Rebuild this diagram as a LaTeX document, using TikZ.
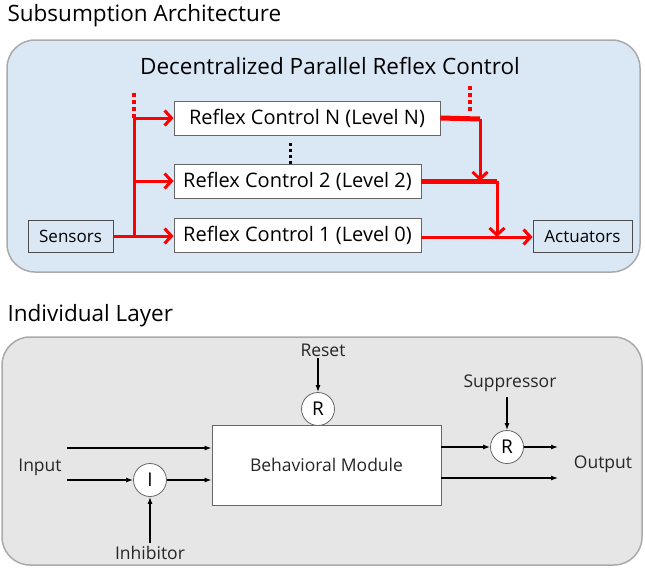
\documentclass[tikz,border=0pt]{standalone}
\usepackage{fontspec}
\setmainfont{Open Sans}
\usetikzlibrary{arrows.meta}
\definecolor{panelblue}{RGB}{218,231,245}
\definecolor{panelgray}{RGB}{230,230,230}
\definecolor{paneledge}{RGB}{170,170,170}
\tikzset{
  panel/.style={draw=paneledge, line width=1.5pt, rounded corners=28pt},
  reflexbox/.style={draw=black!60, fill=white, line width=0.8pt, minimum height=34pt, font=\fontsize{20}{22}\selectfont},
  iobox/.style={draw=black!70, fill=panelblue, line width=0.8pt, minimum height=32pt, font=\fontsize{17}{18}\selectfont},
  gate/.style={circle, draw=black!60, fill=white, line width=0.8pt, minimum size=33pt, inner sep=0pt, font=\fontsize{19}{20}\selectfont},
  lbl/.style={font=\fontsize{17.5}{19}\selectfont, text=black!85},
  redline/.style={red, line width=3pt},
  redarrow/.style={red, line width=3pt, -{Straight Barb[length=7pt,width=15pt]}},
  blkarrow/.style={black, line width=1.2pt, -{Latex[length=7pt,width=5pt]}}
}
\begin{document}
\begin{tikzpicture}[x=1pt,y=-1pt]
\useasboundingbox (0,0) rectangle (645,568);

% upper panel
\node[anchor=west, font=\fontsize{22.5}{24}\selectfont] (ttlA) at (4,16) {Subsumption Architecture};
\draw[panel, fill=panelblue] (7,40) rectangle (640,272);
\node[font=\fontsize{22.5}{24}\selectfont] (ttlB) at (330,66) {Decentralized Parallel Reflex Control};

\node[reflexbox, minimum width=266pt] (rcN) at (307,118) {Reflex Control N (Level N)};
\node[reflexbox, minimum width=247pt] (rc2) at (297.5,181) {Reflex Control 2 (Level 2)};
\node[reflexbox, minimum width=247pt] (rc1) at (297.5,235) {Reflex Control 1 (Level 0)};
\node[iobox, minimum width=85pt] (sen) at (70.5,236) {Sensors};
\node[iobox, minimum width=99pt] (act) at (582.5,236) {Actuators};

\coordinate (bus1) at (134,236);
\coordinate (bus2) at (134,181);
\coordinate (busN) at (134,118);
\coordinate (busT) at (134,92);
\coordinate (outN) at (480,119);
\coordinate (joinN) at (480,181);
\coordinate (out2) at (497,181);
\coordinate (join2) at (497,237);
\coordinate (dotN) at (470,86);
\coordinate (dotNb) at (470,113);

% sensors bus
\draw[redline] (sen.east) -- (bus1);
\draw[redline] (bus1) -- (busN);
\draw[red, line width=3.5pt, dash pattern=on 4pt off 3pt] (busN) -- (busT);
\draw[redarrow] (busN) -- (rcN.west);
\draw[redarrow] (bus2) -- (rc2.west);
\draw[redarrow] (bus1) -- (rc1.west |- bus1);
\draw[black, line width=3pt, dash pattern=on 3pt off 3pt] (290,143) -- (290,165);

% outputs
\draw[red, line width=3.5pt, dash pattern=on 4pt off 3pt] (dotN) -- (dotNb);
\draw[red, line width=5pt] (rcN.east) -- (outN);
\draw[redarrow] (outN) -- (joinN);
\draw[red, line width=5pt] (rc2.east) -- (out2);
\draw[redarrow] (out2) -- (join2);
\draw[redarrow] (rc1.east |- join2) -- (act.west |- join2);

% lower panel
\node[anchor=west, font=\fontsize{22.5}{24}\selectfont] (ttlC) at (4,316) {Individual Layer};
\draw[panel, fill=panelgray] (2,337) rectangle (642,565);

\node[draw=black!60, fill=white, line width=0.8pt, minimum width=229pt, minimum height=80pt, lbl] (bm) at (326.5,465) {Behavioral Module};
\node[gate] (rst) at (318,409) {R};
\node[gate] (inh) at (150,480) {I};
\node[gate] (sup) at (507,447) {R};

\node[lbl] (tRst) at (323,350) {Reset};
\node[lbl] (tInp) at (40,467) {Input};
\node[lbl] (tInh) at (150,553) {Inhibitor};
\node[lbl] (tSup) at (510,383) {Suppressor};
\node[lbl] (tOut) at (603,464) {Output};

\coordinate (in1) at (67,448);
\coordinate (in2) at (67,480);
\coordinate (inhB) at (150,543);
\coordinate (rstT) at (318,358);
\coordinate (supT) at (507,397);
\coordinate (o1) at (558,447);
\coordinate (o2) at (558,478);

\draw[blkarrow] (in1) -- (bm.west |- in1);
\draw[blkarrow] (in2) -- (inh.west);
\draw[blkarrow] (inh.east) -- (bm.west |- inh);
\draw[blkarrow] (inhB) -- (inh.south);
\draw[blkarrow] (rstT) -- (rst.north);
\draw[blkarrow] (supT) -- (sup.north);
\draw[blkarrow] (bm.east |- sup) -- (sup.west);
\draw[blkarrow] (sup.east) -- (o1);
\draw[blkarrow] (bm.east |- o2) -- (o2);
\end{tikzpicture}
\end{document}
